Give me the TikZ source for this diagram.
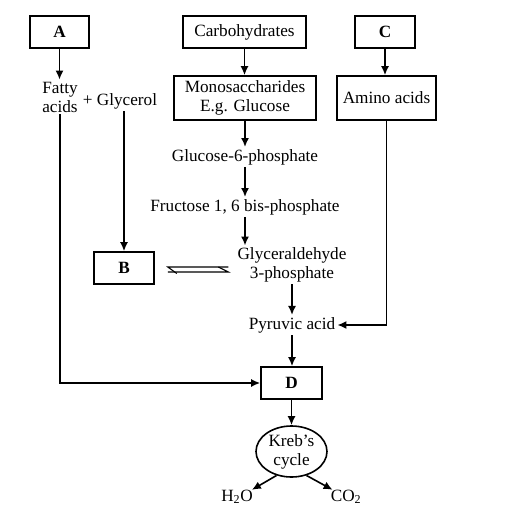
\documentclass[tikz,border=0pt]{standalone}
\usepackage{fontspec}
\setmainfont{Liberation Serif}
\usetikzlibrary{arrows.meta,shapes.geometric}
\begin{document}
\begin{tikzpicture}[x=1pt,y=-1pt,
  every node/.style={font=\fontsize{17.2}{19}\selectfont, align=center},
  box/.style={draw, line width=1.6pt, inner sep=0pt},
  txt/.style={inner sep=2pt},
  arr/.style={line width=1.6pt, -{Latex[length=9pt,width=8pt]}},
  thin/.style={line width=1.1pt}]
\useasboundingbox (0,0) rectangle (515,518);
\node[box, minimum width=59, minimum height=32] (A) at (59.5,32) {\textbf{A}};
\node[box, minimum width=123, minimum height=32] (carb) at (244.5,32) {Carbohydrates};
\node[box, minimum width=60, minimum height=32] (C) at (385,32) {\textbf{C}};
\node[box, minimum width=142, minimum height=44] (mono) at (245,98) {Monosaccharides\\E.g. Glucose};
\node[box, minimum width=99, minimum height=44] (amino) at (386.5,98) {Amino acids};
\node[txt] (fatty) at (60,97) {Fatty\\acids};
\node[txt] (glycerol) at (120,101) {+ Glycerol};
\node[txt] (g6p) at (245,157) {Glucose-6-phosphate};
\node[txt] (fru) at (245,207) {Fructose 1, 6 bis-phosphate};
\node[txt] (glyc) at (292,265) {Glyceraldehyde\\3-phosphate};
\node[box, minimum width=60, minimum height=32] (B) at (124,268) {\textbf{B}};
\node[txt] (pyr) at (292,325) {Pyruvic acid};
\node[box, minimum width=61, minimum height=32] (D) at (291.5,383) {\textbf{D}};
\node[draw, ellipse, line width=1.6pt, minimum width=71, minimum height=51, inner sep=0pt] (kreb) at (291.5,451.5) {};
\node[txt] (krebtxt) at (kreb.center) {Kreb’s\\cycle};
\node[txt] (h2o) at (237,497) {H\textsubscript{2}O};
\node[txt] (co2) at (346,497) {CO\textsubscript{2}};
% connectors
\draw[arr] (A.south) -- (A.south |- fatty.north);
\draw[arr] (carb.south) -- (carb.south |- mono.north);
\draw[arr] (C.south) -- (C.south |- amino.north);
\draw[arr] (mono.south) -- (g6p.north);
\draw[arr] (g6p.south) -- (fru.north);
\draw[arr] (fru.south) -- (fru.south |- glyc.north);
\draw[arr] (B.north |- glycerol.south) -- (B.north);
\draw[arr] (glyc.south) -- (pyr.north);
\draw[arr] (amino.south) |- (pyr.east);
\draw[arr] (pyr.south) -- (pyr.south |- D.north);
\draw[arr] (fatty.south) |- (D.west);
\draw[arr] (D.south) -- (D.south |- kreb.north);
\draw[arr] (kreb.238) -- ([xshift=-3pt,yshift=-2pt]h2o.north east);
\draw[arr] (kreb.302) -- ([xshift=4pt,yshift=-2pt]co2.north west);
% equilibrium harpoons
\coordinate (eqL) at ([xshift=13]B.east);
\coordinate (eqR) at ([xshift=-7]glyc.west);
\draw[thin] ([yshift=-4]eqL) -- ([yshift=-4]eqR |- B.east) -- ++(-10,-5);
\draw[thin] ([yshift=1]eqR |- B.east) -- ([yshift=1]eqL) -- ++(9,6.5);
\end{tikzpicture}
\end{document}
